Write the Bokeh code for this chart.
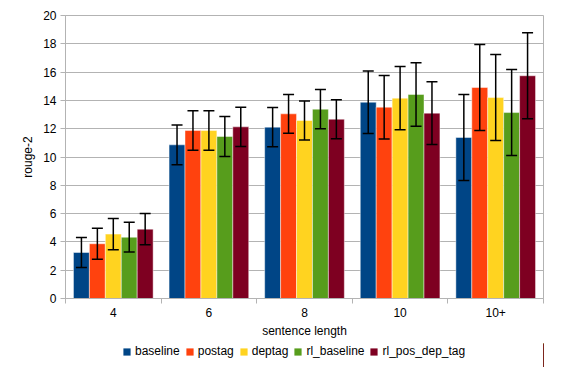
from bokeh.plotting import figure
from bokeh.models import ColumnDataSource, Whisker, TeeHead, FixedTicker, Legend, LegendItem
from bokeh.layouts import column
from bokeh.embed import file_html
from bokeh.resources import INLINE

categories = ["4", "6", "8", "10", "10+"]
series = ["baseline", "postag", "deptag", "rl_baseline", "rl_pos_dep_tag"]
colors = ["#004586", "#ff420e", "#ffd320", "#579d1c", "#7e0021"]

baseline = [3.25, 10.86, 12.11, 13.87, 11.38]
postag = [3.87, 11.87, 13.05, 13.52, 14.91]
deptag = [4.55, 11.87, 12.58, 14.16, 14.20]
rl_baseline = [4.33, 11.45, 13.38, 14.42, 13.14]
rl_pos_dep_tag = [4.90, 12.13, 12.67, 13.10, 15.74]

baseline_err = [1.06, 1.40, 1.38, 2.21, 3.04]
postag_err = [1.10, 1.40, 1.37, 2.24, 3.04]
deptag_err = [1.10, 1.40, 1.38, 2.24, 3.04]
rl_baseline_err = [1.05, 1.42, 1.39, 2.24, 3.04]
rl_pos_dep_tag_err = [1.10, 1.39, 1.38, 2.22, 3.04]

values = [baseline, postag, deptag, rl_baseline, rl_pos_dep_tag]
errors = [baseline_err, postag_err, deptag_err, rl_baseline_err, rl_pos_dep_tag_err]

FONT = "Liberation Sans"
GRID = "#b3b3b3"
n = len(categories)
k = len(series)
bw = 1.0 / (k + 1)

p = figure(width=547, height=343, x_range=(0, n), y_range=(0, 20),
           output_backend="svg", toolbar_location=None,
           min_border_left=65, min_border_top=15, min_border_right=4,
           min_border_bottom=45)

# separate strip that carries the legend below the chart
lg = figure(width=547, height=24, x_range=(-2, -1), y_range=(0, 1),
            output_backend="svg", toolbar_location=None,
            x_axis_type=None, y_axis_type=None,
            min_border_left=65, min_border_right=4, min_border_top=0,
            min_border_bottom=0)
lg.grid.visible = False
lg.outline_line_color = None
lg.background_fill_color = "white"
lg.border_fill_color = "white"

items = []
for j, (name, col, vals, errs) in enumerate(zip(series, colors, values, errors)):
    xs = [i + 0.5 + (j - (k - 1) / 2) * bw for i in range(n)]
    src = ColumnDataSource(dict(x=xs, top=vals,
                                upper=[v + e for v, e in zip(vals, errs)],
                                lower=[v - e for v, e in zip(vals, errs)]))
    p.vbar(x="x", top="top", width=bw, bottom=0, source=src,
           fill_color=col, line_color="white", line_alpha=0.45, line_width=1)
    r2 = lg.vbar(x="x", top="top", width=bw, bottom=0, source=src,
                 fill_color=col, line_color=None)
    items.append(LegendItem(label=name, renderers=[r2]))
    w = Whisker(source=src, base="x", upper="upper", lower="lower",
                line_color="black", line_width=1.5, level="overlay",
                upper_head=TeeHead(size=11, line_color="black", line_width=1.5),
                lower_head=TeeHead(size=11, line_color="black", line_width=1.5))
    p.add_layout(w)

# axes
p.xaxis.ticker = FixedTicker(ticks=[i + 0.5 for i in range(n)],
                             minor_ticks=[float(i) for i in range(n + 1)])
p.xaxis.major_label_overrides = {i + 0.5: c for i, c in enumerate(categories)}
p.xaxis.major_tick_out = 0
p.xaxis.major_tick_in = 0
p.xaxis.minor_tick_out = 5
p.xaxis.minor_tick_in = 0
p.xaxis.minor_tick_line_color = GRID
p.xaxis.axis_label = "sentence length"

p.yaxis.ticker = FixedTicker(ticks=list(range(0, 21, 2)))
p.yaxis.major_tick_out = 5
p.yaxis.major_tick_in = 0
p.yaxis.minor_tick_line_color = None
p.yaxis.axis_label = "rouge-2"

for ax in (p.xaxis, p.yaxis):
    ax.axis_line_color = GRID
    ax.major_tick_line_color = GRID
    ax.major_label_text_font = FONT
    ax.major_label_text_font_size = "12px"
    ax.major_label_text_color = "black"
    ax.axis_label_text_font = FONT
    ax.axis_label_text_font_size = "12px"
    ax.axis_label_text_font_style = "normal"
    ax.axis_label_text_color = "black"
p.xaxis.major_label_standoff = 4
p.xaxis.axis_label_standoff = 4
p.yaxis.major_label_standoff = 4
p.yaxis.axis_label_standoff = 5

p.xgrid.grid_line_color = None
p.ygrid.grid_line_color = GRID
p.ygrid.ticker = FixedTicker(ticks=list(range(0, 21, 2)))
p.outline_line_color = GRID
p.background_fill_color = "white"
p.border_fill_color = "white"

legend = Legend(items=items, orientation="horizontal", location=(57, 9),
                glyph_width=9, glyph_height=9, spacing=5, label_standoff=4,
                label_text_font=FONT, label_text_font_size="12px",
                label_text_color="black", label_height=12,
                border_line_color=None, background_fill_alpha=0,
                padding=0, margin=0)
lg.add_layout(legend, "center")

layout = column(p, lg, spacing=0)
open("out.html", "w").write(file_html(layout, INLINE))
